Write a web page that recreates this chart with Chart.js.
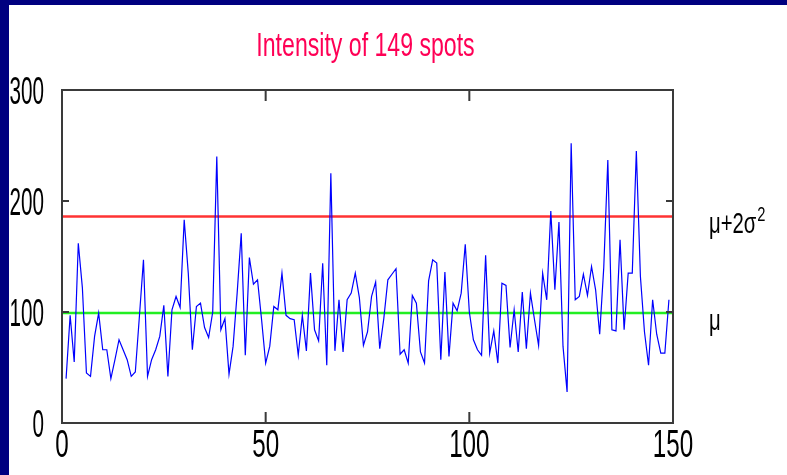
<!DOCTYPE html>
<html lang="en">
<head>
  <meta charset="UTF-8">
  <title>Intensity of 149 spots</title>
  <script src="https://cdn.jsdelivr.net/npm/chart.js"></script>
  <style>
    body {
      margin: 0;
      background: #000080;
      width: 787px;
      height: 475px;
      overflow: hidden;
    }

    .panel {
      position: absolute;
      left: 9px;
      top: 5px;
      width: 778px;
      height: 470px;
      background: #ffffff;
    }
  </style>
</head>
<body>
  <div class="panel">
    <canvas id="spotChart" width="778" height="470"></canvas>
  </div>

  <script>
    // Chart data
    const chartTitle = 'Intensity of 149 spots';
    const intensity = [
      40, 97, 55, 162, 122, 45, 42, 78, 99, 66,
      66, 40, 57, 75, 66, 57, 42, 46, 96, 147,
      42, 57, 66, 78, 106, 42, 102, 114, 104, 183,
      135, 66, 105, 108, 86, 77, 100, 240, 84, 94,
      44, 69, 117, 171, 61, 149, 125, 129, 93, 54,
      69, 105, 102, 135, 97, 94, 93, 61, 97, 65,
      135, 84, 74, 144, 52, 225, 65, 111, 64, 111,
      117, 135, 113, 70, 82, 114, 127, 67, 94, 129,
      134, 139, 62, 66, 54, 115, 108, 64, 54, 128,
      147, 144, 57, 136, 60, 108, 101, 117, 161, 100,
      75, 66, 61, 151, 63, 83, 54, 126, 124, 68,
      102, 64, 118, 67, 117, 93, 70, 135, 111, 191,
      120, 181, 69, 28, 252, 111, 114, 134, 115, 141,
      120, 80, 140, 237, 84, 83, 165, 84, 135, 135,
      245, 132, 82, 52, 111, 80, 63, 63, 111
    ];
    const meanLevel = 99;    // mu
    const upperLevel = 186;  // mu + 2 sigma^2
    const xTicks = [0, 50, 100, 150];
    const yTicks = [0, 100, 200, 300];

    const fontFamily = '"Liberation Sans", Arial, sans-serif';

    // the slide text is narrow and tall, so squeeze it horizontally
    function narrowText(ctx, text, x, y, size, align, color, squeeze) {
      ctx.save();
      ctx.translate(x, y);
      ctx.scale(squeeze, 1);
      ctx.font = size + 'px ' + fontFamily;
      ctx.fillStyle = color;
      ctx.textAlign = align;
      ctx.textBaseline = 'alphabetic';
      ctx.fillText(text, 0, 0);
      const w = ctx.measureText(text).width * squeeze;
      ctx.restore();
      return w;
    }

    // box, inward ticks, labels, title
    const framePlugin = {
      id: 'frame',
      afterDraw(chart) {
        const { ctx, chartArea: a } = chart;
        const xs = chart.scales.x;
        const ys = chart.scales.y;

        ctx.save();
        ctx.strokeStyle = '#3a3a3a';
        ctx.lineWidth = 2;
        ctx.strokeRect(a.left, a.top, a.right - a.left, a.bottom - a.top);

        ctx.beginPath();
        yTicks.slice(1, -1).forEach(v => {
          const py = ys.getPixelForValue(v);
          ctx.moveTo(a.left, py);
          ctx.lineTo(a.left + 7, py);
          ctx.moveTo(a.right, py);
          ctx.lineTo(a.right - 7, py);
        });
        xTicks.slice(1, -1).forEach(v => {
          const px = xs.getPixelForValue(v);
          ctx.moveTo(px, a.bottom);
          ctx.lineTo(px, a.bottom - 11);
          ctx.moveTo(px, a.top);
          ctx.lineTo(px, a.top + 11);
        });
        ctx.stroke();
        ctx.restore();

        // tick labels
        yTicks.forEach(v => {
          narrowText(ctx, String(v), a.left - 18, ys.getPixelForValue(v) + 14, 39, 'right', '#000', 0.53);
        });
        xTicks.forEach(v => {
          narrowText(ctx, String(v), xs.getPixelForValue(v), a.bottom + 34, 39, 'center', '#000', 0.62);
        });

        // title
        narrowText(ctx, chartTitle, (a.left + a.right) / 2 - 2, 51, 33, 'center', '#ff0055', 0.7);

        // level labels on the right
        const lx = a.right + 36;
        const uy = ys.getPixelForValue(upperLevel) + 16.5;
        const w = narrowText(ctx, '\u03bc+2\u03c3', lx, uy, 29, 'left', '#000', 0.7);
        narrowText(ctx, '2', lx + w + 1, uy - 12, 21, 'left', '#000', 0.7);
        narrowText(ctx, '\u03bc', lx, ys.getPixelForValue(meanLevel) + 16.5, 29, 'left', '#000', 0.7);
      }
    };

    const ctx = document.getElementById('spotChart').getContext('2d');
    const spotChart = new Chart(ctx, {
      type: 'line',
      data: {
        datasets: [
          {
            label: 'Intensity',
            data: intensity.map((v, i) => ({ x: i + 1, y: v })),
            borderColor: '#0000ff',
            borderWidth: 1.2,
            pointRadius: 0,
            fill: false,
          },
          {
            label: 'mu + 2 sigma^2',
            data: [{ x: xTicks[0], y: upperLevel }, { x: xTicks[xTicks.length - 1], y: upperLevel }],
            borderColor: '#ff3333',
            borderWidth: 2.5,
            pointRadius: 0,
            fill: false,
          },
          {
            label: 'mu',
            data: [{ x: xTicks[0], y: meanLevel }, { x: xTicks[xTicks.length - 1], y: meanLevel }],
            borderColor: '#22ee22',
            borderWidth: 2.5,
            pointRadius: 0,
            fill: false,
          },
        ],
      },
      options: {
        responsive: false,
        animation: false,
        devicePixelRatio: 1,
        layout: {
          padding: { left: 0, right: 114, top: 85, bottom: 0 },
        },
        plugins: {
          legend: { display: false },
          title: { display: false },
          tooltip: { enabled: false },
        },
        scales: {
          x: {
            type: 'linear',
            min: 0,
            max: 150,
            ticks: { display: false, stepSize: 50 },
            grid: { display: false },
            border: { display: false },
            afterFit: scale => { scale.height = 52; },
          },
          y: {
            min: 0,
            max: 300,
            ticks: { display: false, stepSize: 100 },
            grid: { display: false },
            border: { display: false },
            afterFit: scale => { scale.width = 53; },
          },
        },
      },
      plugins: [framePlugin],
    });
  </script>
</body>
</html>
